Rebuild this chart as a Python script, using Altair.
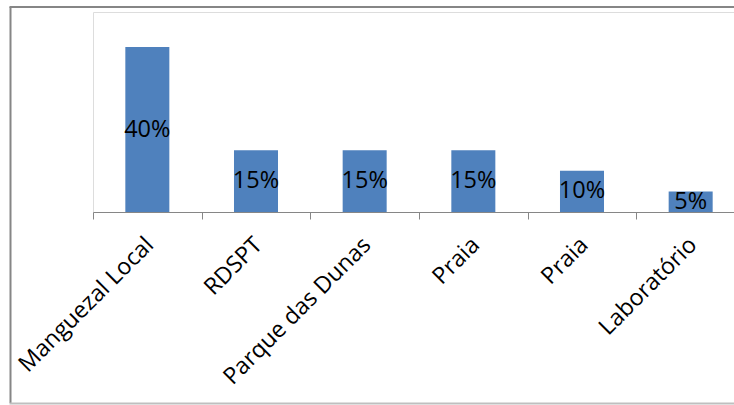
import altair as alt
import pandas as pd

names = ["Manguezal Local", "RDSPT", "Parque das Dunas", "Praia", "Praia", "Laboratório"]
values = [40, 15, 15, 15, 10, 5]
labels = ["40%", "15%", "15%", "15%", "10%", "5%"]

df = pd.DataFrame({"idx": list(range(len(names))), "name": names, "value": values, "label": labels})

label_expr = "[" + ",".join("'" + n + "'" for n in names) + "][datum.value]"

FONT = "Open Sans"
GRAY = "#868686"

xenc = alt.X(
    "idx:N",
    sort=None,
    scale=alt.Scale(range=[0, 652], paddingInner=0, paddingOuter=0),
    axis=alt.Axis(
        title=None,
        labelAngle=-45,
        labelAlign="right",
        labelBaseline="middle",
        labelExpr=label_expr,
        labelLimit=400,
        tickBand="extent",
        tickSize=7,
        tickColor=GRAY,
        domainColor=GRAY,
        labelFont=FONT,
        labelFontSize=23.2,
        labelColor="black",
        labelPadding=22,
        labelOffset=2,
        grid=False,
    ),
)
yenc = alt.Y("value:Q", scale=alt.Scale(domain=[0, 48.5]), axis=None)

base = alt.Chart(df)
bars = base.mark_bar(color="#4F81BD", width=alt.RelativeBandSize(0.405)).encode(x=xenc, y=yenc)
text = base.transform_calculate(mid="datum.value / 2").mark_text(
    font=FONT, fontSize=23.5, color="black", baseline="middle", align="center"
).encode(x=xenc, y=alt.Y("mid:Q", scale=alt.Scale(domain=[0, 48.5]), axis=None), text="label:N")

frame_data = alt.Data(values=[{"k": 1}])
left_line = alt.Chart(frame_data).mark_rule(color=GRAY, strokeWidth=2).encode(
    x=alt.value(-82.5), y=alt.value(-5), y2=alt.value(391))
top_line = alt.Chart(frame_data).mark_rule(color=GRAY, strokeWidth=2).encode(
    x=alt.value(-83.5), x2=alt.value(700), y=alt.value(-5))
bottom_line = alt.Chart(frame_data).mark_rule(color="#BFBFBF", strokeWidth=2).encode(
    x=alt.value(-83.5), x2=alt.value(700), y=alt.value(391.5))

chart = alt.layer(bars, text, left_line, top_line, bottom_line).properties(
    width=641,
    height=200,
    autosize=alt.AutoSizeParams(type="none"),
    padding={"left": 93, "top": 12, "right": 0, "bottom": 193},
).configure_view(stroke=None).configure(background="white")

chart.save("out.html", embed_options={"renderer": "svg", "actions": False})
